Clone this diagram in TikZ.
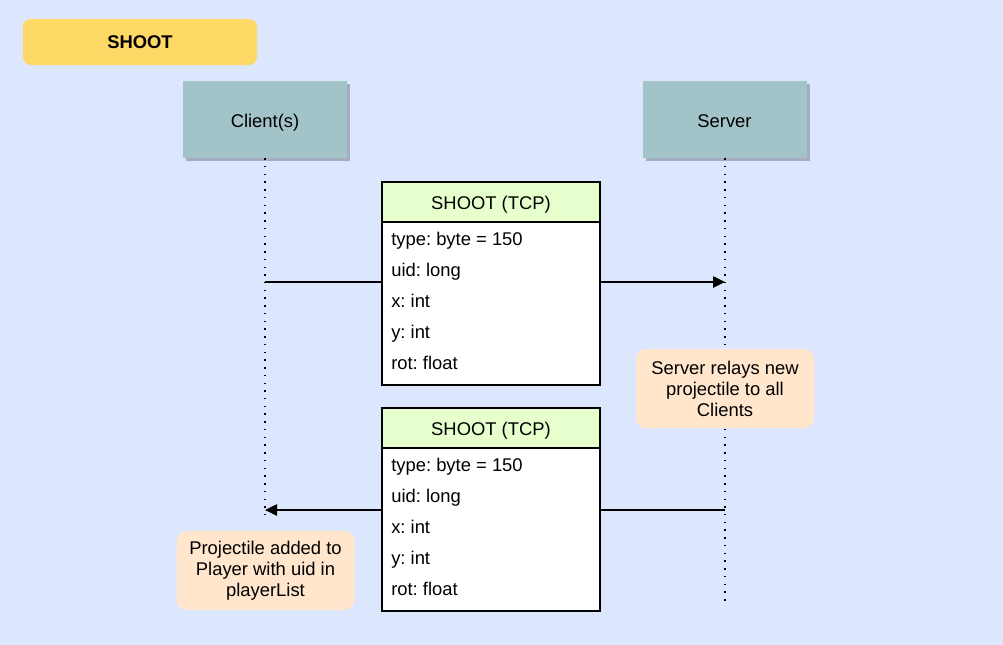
\documentclass[tikz,border=0pt]{standalone}
\usepackage{fontspec}
\setmainfont{Liberation Sans}
\frenchspacing
\usetikzlibrary{arrows.meta,shadows}
\definecolor{bgblue}{HTML}{DCE6FC}
\definecolor{titleyellow}{HTML}{FFD966}
\definecolor{actorfill}{HTML}{A2C4C9}
\definecolor{shadowgrey}{HTML}{A4ADC2}
\definecolor{hdrgreen}{HTML}{E6FFCC}
\definecolor{notefill}{HTML}{FFE6CC}
\tikzset{
  base/.style={font=\fontsize{13.8}{16}\selectfont, inner sep=0pt},
  lowtext/.style={text height=12pt, text depth=0.5pt},
  titlebox/.style={base, fill=titleyellow, rounded corners=6pt, minimum width=175.5pt, minimum height=34.5pt, font=\fontsize{13.8}{16}\selectfont\bfseries},
  actor/.style={base, lowtext, fill=actorfill, minimum width=123pt, minimum height=57.75pt,
    drop shadow={shadow xshift=2.5pt, shadow yshift=-2.5pt, fill=shadowgrey, opacity=1}},
  msgbox/.style={base, draw=black, line width=1.1pt, fill=white, minimum width=163.5pt, minimum height=152.25pt},
  msghdr/.style={base, lowtext, draw=black, line width=1.1pt, fill=hdrgreen, minimum width=163.5pt, minimum height=30pt},
  row/.style={base, lowtext, anchor=west},
  note/.style={base, fill=notefill, rounded corners=7.5pt, minimum width=133.5pt, minimum height=59.25pt, align=center, font=\fontsize{13.8}{15.75}\selectfont},
  lifeline/.style={line width=1.1pt, dash pattern=on 1.1pt off 4.7pt, black},
  msgline/.style={line width=1.1pt, black},
  msgarrow/.style={msgline, -{Triangle[length=9pt,width=8.5pt]}}
}
\begin{document}
\begin{tikzpicture}[x=0.75pt,y=-0.75pt]
\useasboundingbox (0,0) rectangle (1003,644);
\fill[bgblue] (-10,-10) rectangle (1013,654);

\node[titlebox] (title) at (140,42) {SHOOT};
\node[actor] (client) at (265,119.5) {Client(s)};
\node[actor] (server) at (724.5,119.5) {Server};

\coordinate (clientEnd) at (265,517);
\coordinate (serverEnd) at (725,605);
\draw[lifeline] (client.south) -- (clientEnd);
\draw[lifeline] (server.south -| serverEnd) -- (serverEnd);

% message 1
\node[msgbox] (msgA) at (491,283.5) {};
\node[msghdr, anchor=north] (hdrA) at (msgA.north) {SHOOT (TCP)};
\node[row] (a1) at (391,238) {type: byte = 150};
\node[row] (a2) at (391,269) {uid: long};
\node[row] (a3) at (391,300) {x: int};
\node[row] (a4) at (391,331) {y: int};
\node[row] (a5) at (391,362) {rot: float};

\coordinate (c1) at (265,282);
\coordinate (s1) at (725,282);
\draw[msgline] (c1) -- (msgA.west |- c1);
\draw[msgarrow] (msgA.east |- s1) -- (s1);

\node[note] (noteS) at (725,388.5) {Server relays new\\projectile to all\\Clients};

% message 2
\node[msgbox] (msgB) at (491,509.5) {};
\node[msghdr, anchor=north] (hdrB) at (msgB.north) {SHOOT (TCP)};
\node[row] (b1) at (391,464) {type: byte = 150};
\node[row] (b2) at (391,495) {uid: long};
\node[row] (b3) at (391,526) {x: int};
\node[row] (b4) at (391,557) {y: int};
\node[row] (b5) at (391,588) {rot: float};

\coordinate (s2) at (725,510);
\coordinate (c2) at (265,510);
\draw[msgline] (s2) -- (msgB.east |- s2);
\draw[msgarrow] (msgB.west |- c2) -- (c2);

\node[note] (noteC) at (265.5,570.5) {Projectile added to\\Player with uid in\\playerList};
\end{tikzpicture}
\end{document}
